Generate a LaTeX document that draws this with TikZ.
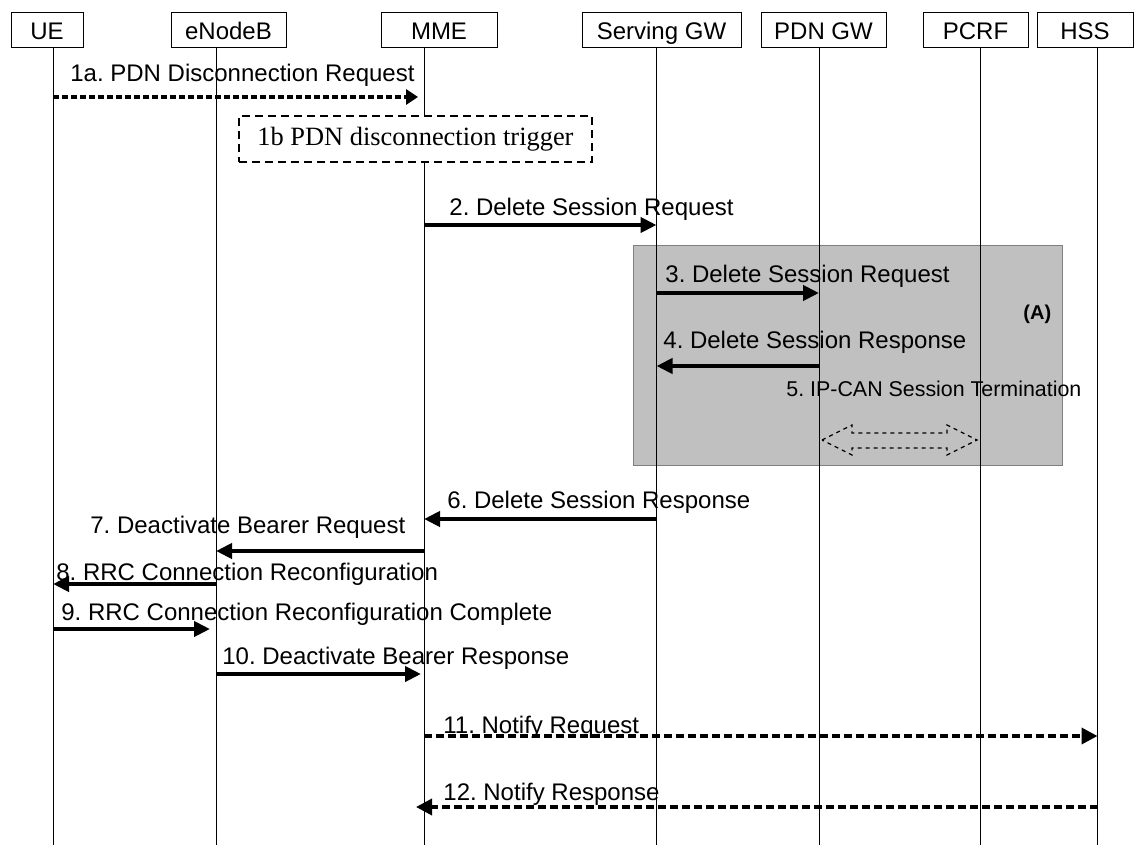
\documentclass[tikz,border=0pt]{standalone}
\usepackage{fontspec}
\setmainfont{Liberation Sans}
\newfontfamily\trigfont{Liberation Serif}
\usetikzlibrary{arrows.meta}

\definecolor{shade}{HTML}{C0C0C0}
\definecolor{shadeline}{HTML}{7F7F7F}

\tikzset{
  hdr/.style={draw, line width=0.5pt, minimum height=17.5pt, inner sep=0pt,
    text height=8.6pt, text depth=0pt},
  life/.style={line width=0.5pt},
  lbl/.style={anchor=base west, inner sep=0pt},
  msg/.style={line width=2pt, -{Triangle[length=8pt,width=7.5pt]}},
  dmsg/.style={line width=1.8pt, dash pattern=on 3pt off 1.5pt, -{Triangle[length=6pt,width=7.5pt]}},
  nmsg/.style={line width=1.8pt, dash pattern=on 4pt off 2pt, -{Triangle[length=8pt,width=8pt]}},
  trig/.style={draw, fill=white, line width=0.7pt, dash pattern=on 4pt off 2.5pt,
    minimum width=176.5pt, minimum height=23pt, inner sep=0pt,
    font=\trigfont\fontsize{13.2}{15}\selectfont}
}

\begin{document}
\frenchspacing
\begin{tikzpicture}[x=0.5pt, y=-0.5pt, font=\fontsize{12}{14}\selectfont]
    \useasboundingbox (0,0) rectangle (1134,850);

    % shaded part (A)
    \filldraw[fill=shade, draw=shadeline, line width=0.5pt] (633,246) rectangle (1062,465);

    % entities
    \node[hdr, minimum width=36pt] (uebox) at (47,30.5) {UE};
    \node[hdr, minimum width=57.5pt] (enbbox) at (228.5,30.5) {eNodeB};
    \node[hdr, minimum width=58pt] (mmebox) at (439,30.5) {MME};
    \node[hdr, minimum width=79.5pt] (sgwbox) at (661.5,30.5) {Serving GW};
    \node[hdr, minimum width=62.5pt] (pgwbox) at (823.5,30.5) {PDN GW};
    \node[hdr, minimum width=52.5pt] (pcrfbox) at (975.5,30.5) {PCRF};
    \node[hdr, minimum width=48pt] (hssbox) at (1085,30.5) {HSS};

    % lifelines
    \foreach \n/\x in {ue/53, enb/216, mme/424, sgw/656.5, pgw/819, pcrf/980, hss/1097.5} {
        \coordinate (\n) at (\x,48);
        \draw[life] (\n) -- (\x,845);
    }

    % 1a / 1b
    \node[lbl] (m1a) at (70,82) {1a. PDN Disconnection Request};
    \draw[dmsg, shorten >=3pt] (ue |- 0,97) -- (mme |- 0,97);
    \node[trig] (m1b) at (415.5,139) {1b PDN disconnection trigger};

    % 2 - 4
    \node[lbl] (m2) at (449,216) {2. Delete Session Request};
    \draw[msg] (mme |- 0,225) -- (sgw |- 0,225);
    \node[lbl] (m3) at (665,282) {3. Delete Session Request};
    \draw[msg] (sgw |- 0,293) -- (pgw |- 0,293);
    \node[lbl, font=\bfseries] (mA) at (1023,319) {(A)};
    \node[lbl] (m4) at (663,348) {4. Delete Session Response};
    \draw[msg] (pgw |- 0,366) -- (sgw |- 0,366);

    % 5 IP-CAN session termination
    \node[lbl, font=\fontsize{10.7}{13}\selectfont] (m5) at (786,396) {5. IP-CAN Session Termination};
    \draw[line width=0.6pt, dash pattern=on 2pt off 2pt]
        (822,440) -- (852,425) -- (852,433) -- (947,433) -- (947,425) -- (977,440)
        -- (947,455) -- (947,448) -- (852,448) -- (852,455) -- cycle;

    % 6 - 10
    \node[lbl] (m6) at (447,508) {6. Delete Session Response};
    \draw[msg] (sgw |- 0,519) -- (mme |- 0,519);
    \node[lbl] (m7) at (90,533) {7. Deactivate Bearer Request};
    \draw[msg] (mme |- 0,551) -- (enb |- 0,551);
    \node[lbl] (m8) at (56,580) {8. RRC Connection Reconfiguration};
    \draw[msg] (enb |- 0,584) -- (ue |- 0,584);
    \node[lbl] (m9) at (61,620) {9. RRC Connection Reconfiguration Complete};
    \draw[msg, shorten >=3pt] (ue |- 0,629) -- (enb |- 0,629);
    \node[lbl] (m10) at (222,664) {10. Deactivate Bearer Response};
    \draw[msg, shorten >=1.5pt] (enb |- 0,674) -- (mme |- 0,674);

    % 11 / 12
    \node[lbl] (m11) at (443,733) {11. Notify Request};
    \draw[nmsg] (mme |- 0,736) -- (hss |- 0,736);
    \node[lbl] (m12) at (443,800) {12. Notify Response};
    \draw[nmsg, shorten >=-4pt] (hss |- 0,807) -- (mme |- 0,807);
\end{tikzpicture}
\end{document}
